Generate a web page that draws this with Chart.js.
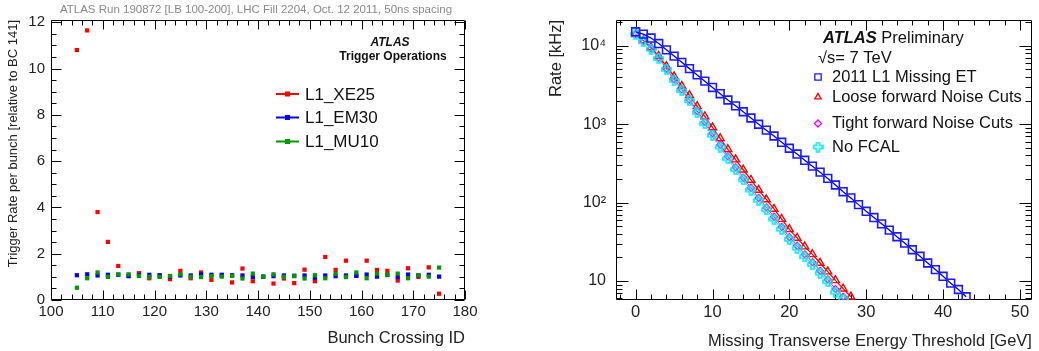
<!DOCTYPE html>
<html><head><meta charset="utf-8">
<script src="https://cdn.jsdelivr.net/npm/chart.js@4.4.0/dist/chart.umd.min.js"></script>
<style>
html,body{margin:0;padding:0;background:#fff;width:1039px;height:351px;overflow:hidden}
#c1{position:absolute;left:0;top:0}
#c2{position:absolute;left:520px;top:0}
</style></head><body>
<canvas id="c1" width="520" height="351"></canvas>
<canvas id="c2" width="519" height="351"></canvas>
<script>
// ---------- Left panel data ----------
const bunchIds = [105,107,109,111,113,115,117,119,121,123,125,127,129,131,133,135,137,139,141,143,145,147,149,151,153,155,157,159,161,163,165,167,169,171,173,175];
const rateXE25 = [10.8,11.65,3.8,2.51,1.47,1.05,1.16,0.94,1.06,0.9,1.26,0.94,1.19,0.87,1.06,0.76,1.36,0.81,1.0,0.71,0.93,0.73,1.31,0.81,1.86,1.3,1.7,1.05,1.7,1.3,1.26,0.84,1.37,1.0,1.41,0.27];
const rateEM30 = [1.07,1.11,1.06,1.09,1.09,1.03,1.07,1.09,1.07,1.01,1.06,1.06,1.11,1.09,1.09,1.07,1.06,1.0,1.01,1.03,1.06,1.05,1.06,0.96,1.06,1.03,1.06,1.04,1.1,1.01,1.08,0.99,1.1,1.07,1.09,1.01];
const rateMU10 = [0.53,0.94,1.19,1.0,1.11,1.11,1.04,1.0,1.0,1.04,1.11,1.0,0.99,1.03,1.01,1.04,0.93,1.14,1.01,1.11,1.0,1.03,0.93,1.07,0.94,1.14,0.99,1.19,0.94,1.14,1.09,1.14,0.94,1.07,1.01,1.4];
const leftTitle = 'ATLAS Run 190872 [LB 100-200], LHC Fill 2204, Oct. 12 2011, 50ns spacing';

// ---------- Right panel data ----------
const thresholds = [0,1,2,3,4,5,6,7,8,9,10,11,12,13,14,15,16,17,18,19,20,21,22,23,24,25,26,27,28,29,30,31,32,33,34,35,36,37,38,39,40,41,42,43];
const rateMissingET = [15136,14125,12589,10715,8913,7413,6166,5129,4266,3548,2951,2455,2042,1718,1445,1202,1000,841,708,589,495,417,347,292,245,204,168,138,115,94.4,77.6,64.6,53.7,44.7,36.7,30.5,25.1,20.7,17.0,14.0,11.5,9.4,7.8,6.3];
const rateLoose = [14125,11749,9550,7413,5495,4074,3090,2344,1698,1259,912,661,479,355,263,195,145,110,83.2,61.7,45.7,35.5,27.5,21.9,17.0,13.2,10.2,8.0,6.3];
const rateTight = [14125,11614,9226,7079,5129,3758,2786,2065,1479,1072,767,550,389,282,209,155,115,87.1,66.1,49.0,36.3,28.2,21.9,17.4,13.5,10.5,7.9,6.3];
const rateNoFCAL = [14125,11482,9120,6918,5012,3631,2692,1995,1413,1023,724,513,363,263,195,145,107,81.3,61.7,45.7,33.9,26.3,20.4,16.2,12.6,9.8,7.2,5.9];
const decadeLabels = {10:'10', 100:'10²', 1000:'10³', 10000:'10⁴'};

const FONT = "'Liberation Sans', Arial, Helvetica, sans-serif";
Chart.defaults.font.family = FONT;
Chart.defaults.color = '#222';

function plusImg(color){
  const c=document.createElement('canvas'); c.width=11; c.height=11;
  const g=c.getContext('2d'); g.strokeStyle=color; g.lineWidth=1.6;
  const p=[[4,1],[7,1],[7,4],[10,4],[10,7],[7,7],[7,10],[4,10],[4,7],[1,7],[1,4],[4,4]];
  g.beginPath(); p.forEach(([x,y],i)=>i?g.lineTo(x,y):g.moveTo(x,y)); g.closePath(); g.stroke();
  return c;
}
const cyanPlus = plusImg('#00e8f0');

const frameTicks = {
  id:'frameTicks',
  beforeDatasetsDraw(chart, args, o){
    const {ctx, chartArea:a} = chart; const xs=chart.scales.x, ys=chart.scales.y;
    ctx.save(); ctx.strokeStyle='#000'; ctx.lineWidth=1;
    const L=Math.round(a.left)+0.5, R=Math.round(a.right)-0.5, T=Math.round(a.top)+0.5, B=Math.round(a.bottom)-0.5;
    ctx.beginPath(); ctx.rect(L,T,R-L,B-T);
    const s0=Math.ceil(xs.min/o.xMinor)*o.xMinor;
    for(let v=s0; v<=xs.max+1e-9; v+=o.xMinor){
      const p=Math.round(xs.getPixelForValue(v))+0.5;
      const maj=Math.abs(v/o.xMajor-Math.round(v/o.xMajor))<1e-6;
      const len=maj?o.xMajLen:o.xMinLen;
      ctx.moveTo(p,B); ctx.lineTo(p,B-len); ctx.moveTo(p,T); ctx.lineTo(p,T+len);
    }
    const yv=[];
    if(o.log){
      for(let d=Math.floor(Math.log10(ys.min)); d<=Math.ceil(Math.log10(ys.max)); d++)
        for(let k=1;k<10;k++){const v=k*Math.pow(10,d); if(v>=ys.min&&v<=ys.max) yv.push([v,k===1]);}
    } else {
      const s=Math.ceil(ys.min/o.yMinor)*o.yMinor;
      for(let v=s; v<=ys.max+1e-9; v+=o.yMinor) yv.push([v, Math.abs(v/o.yMajor-Math.round(v/o.yMajor))<1e-6]);
    }
    for(const [v,maj] of yv){
      const p=Math.round(ys.getPixelForValue(v))+0.5; const len=maj?o.yMajLen:o.yMinLen;
      ctx.moveTo(L,p); ctx.lineTo(L+len,p); ctx.moveTo(R,p); ctx.lineTo(R-len,p);
    }
    ctx.stroke(); ctx.restore();
  }
};

const leftAnno = {
  id:'leftAnno',
  afterDraw(chart){
    const ctx=chart.ctx; ctx.save();
    ctx.textBaseline='middle';
    ctx.font='11.5px '+FONT; ctx.fillStyle='#8a8a8a'; ctx.textAlign='center';
    ctx.fillText(leftTitle, 256, 10);
    ctx.fillStyle='#111';
    ctx.font='italic bold 12px '+FONT; ctx.fillText('ATLAS', 390, 43);
    ctx.font='bold 12px '+FONT; ctx.fillText('Trigger Operations', 393, 57);
    ctx.textAlign='left'; ctx.font='17px '+FONT;
    const ys=[94,117.5,141.5];
    chart.data.datasets.forEach((ds,i)=>{
      const y=ys[i];
      ctx.strokeStyle=ds.borderColor; ctx.lineWidth=2;
      ctx.beginPath(); ctx.moveTo(276,y); ctx.lineTo(299,y); ctx.stroke();
      ctx.fillStyle=ds.backgroundColor; ctx.fillRect(285,y-2.5,5,5);
      ctx.fillStyle='#111'; ctx.fillText(ds.label, 305, y+1);
    });
    ctx.restore();
  }
};

const rightAnno = {
  id:'rightAnno',
  afterDraw(chart){
    const ctx=chart.ctx; ctx.save(); const ox=520;
    ctx.textBaseline='middle'; ctx.textAlign='left'; ctx.fillStyle='#111';
    ctx.font='italic bold 16.5px '+FONT; ctx.fillText('ATLAS', 823-ox, 38);
    const w=ctx.measureText('ATLAS ').width;
    ctx.font='16.5px '+FONT; ctx.fillText('Preliminary', 823-ox+w, 38);
    ctx.fillText('√s= 7 TeV', 818-ox, 58);
    const ys=[77,97,123.5,147];
    chart.data.datasets.forEach((ds,i)=>{
      const y=ys[i];
      ctx.strokeStyle=ds.pointBorderColor; ctx.fillStyle='rgba(0,0,0,0)'; ctx.lineWidth=1.3;
      Chart.helpers.drawPoint(ctx,{pointStyle:ds.pointStyle, rotation:0, radius:ds.legendRadius, borderWidth:1.3}, 818-ox, y);
      ctx.fillStyle='#111'; ctx.fillText(ds.label, 832-ox, y);
    });
    ctx.restore();
  }
};

new Chart(document.getElementById('c1'), {
  type:'scatter',
  data:{datasets:[
    {label:'L1_XE25', data:bunchIds.map((x,i)=>({x,y:rateXE25[i]})), backgroundColor:'#ff0000', borderColor:'#ff0000', pointStyle:'rect', pointRadius:3, pointBorderWidth:0, order:3},
    {label:'L1_EM30', data:bunchIds.map((x,i)=>({x,y:rateEM30[i]})), backgroundColor:'#0000ff', borderColor:'#0000ff', pointStyle:'rect', pointRadius:3, pointBorderWidth:0, order:2},
    {label:'L1_MU10', data:bunchIds.map((x,i)=>({x,y:rateMU10[i]})), backgroundColor:'#009a00', borderColor:'#009a00', pointStyle:'rect', pointRadius:3, pointBorderWidth:0, order:1}
  ]},
  options:{
    responsive:false, animation:false, devicePixelRatio:1,
    layout:{padding:{top:20,right:55,left:0,bottom:0}},
    plugins:{legend:{display:false}, tooltip:{enabled:false},
      frameTicks:{xMajor:10,xMinor:2,xMajLen:9,xMinLen:5,yMajor:2,yMinor:0.5,yMajLen:10,yMinLen:5}},
    scales:{
      x:{type:'linear', min:100, max:180, grid:{display:false, drawTicks:false}, border:{display:false},
        ticks:{stepSize:10, includeBounds:false, font:{size:15}, color:'#222', padding:3, maxRotation:0, autoSkip:false},
        title:{display:true, text:'Bunch Crossing ID', align:'end', font:{size:16.5}, color:'#222', padding:{top:0,bottom:3}},
        afterFit(s){s.height=51;}},
      y:{type:'linear', min:0, max:12.1, grid:{display:false, drawTicks:false}, border:{display:false},
        ticks:{stepSize:2, includeBounds:false, font:{size:15}, color:'#222', padding:6, autoSkip:false},
        title:{display:true, text:'Trigger Rate per bunch [relative to BC 141]', align:'end', font:{size:13}, color:'#222', padding:{top:6,bottom:0}},
        afterFit(s){s.width=51;}}
    }
  },
  plugins:[frameTicks, leftAnno]
});

new Chart(document.getElementById('c2'), {
  type:'line',
  data:{datasets:[
    {label:'2011 L1 Missing ET', data:thresholds.slice(0,rateMissingET.length).map((x,i)=>({x,y:rateMissingET[i]})), borderColor:'#0000ff', borderWidth:1.3, pointStyle:'rect', pointRadius:5.5, pointBorderColor:'#1a1aff', pointBackgroundColor:'rgba(0,0,0,0)', pointBorderWidth:1.6, legendRadius:4.5, order:1},
    {label:'Loose forward Noise Cuts', data:thresholds.slice(0,rateLoose.length).map((x,i)=>({x,y:rateLoose[i]})), borderColor:'#ff0000', borderWidth:1.3, pointStyle:'triangle', pointRadius:4.6, pointBorderColor:'#ff0000', pointBackgroundColor:'rgba(0,0,0,0)', pointBorderWidth:1.4, legendRadius:3.6, order:4},
    {label:'Tight forward Noise Cuts', data:thresholds.slice(0,rateTight.length).map((x,i)=>({x,y:rateTight[i]})), borderColor:'#ff00ff', borderWidth:1, pointStyle:'rectRot', pointRadius:3.5, pointBorderColor:'#ff00ff', pointBackgroundColor:'rgba(0,0,0,0)', pointBorderWidth:1.3, legendRadius:3.5, order:3},
    {label:'No FCAL', data:thresholds.slice(0,rateNoFCAL.length).map((x,i)=>({x,y:rateNoFCAL[i]})), borderColor:'#00e8f0', borderWidth:1, pointStyle:cyanPlus, pointRadius:5, pointBorderColor:'#00e8f0', pointBackgroundColor:'rgba(0,0,0,0)', pointBorderWidth:1.3, legendRadius:5, order:2}
  ]},
  options:{
    responsive:false, animation:false, devicePixelRatio:1,
    layout:{padding:{top:20,right:6,left:0,bottom:0}},
    elements:{line:{tension:0}},
    plugins:{legend:{display:false}, tooltip:{enabled:false},
      frameTicks:{xMajor:10,xMinor:2,xMajLen:10,xMinLen:5,log:true,yMajLen:12,yMinLen:6}},
    scales:{
      x:{type:'linear', min:-2.56, max:51.56, grid:{display:false, drawTicks:false}, border:{display:false},
        ticks:{stepSize:10, includeBounds:false, font:{size:16.5}, color:'#222', padding:3, maxRotation:0, autoSkip:false},
        title:{display:true, text:'Missing Transverse Energy Threshold [GeV]', align:'end', font:{size:16.5}, color:'#222', padding:{top:0,bottom:0}},
        afterFit(s){s.height=51;}},
      y:{type:'logarithmic', min:5.73, max:21400, grid:{display:false, drawTicks:false}, border:{display:false},
        ticks:{font:{size:16}, color:'#222', padding:10, autoSkip:false, callback:(v)=>decadeLabels[v]||''},
        title:{display:true, text:'Rate [kHz]', align:'end', font:{size:16.5}, color:'#222', padding:{top:27,bottom:0}},
        afterFit(s){s.width=96;}}
    }
  },
  plugins:[frameTicks, rightAnno]
});
</script></body></html>
